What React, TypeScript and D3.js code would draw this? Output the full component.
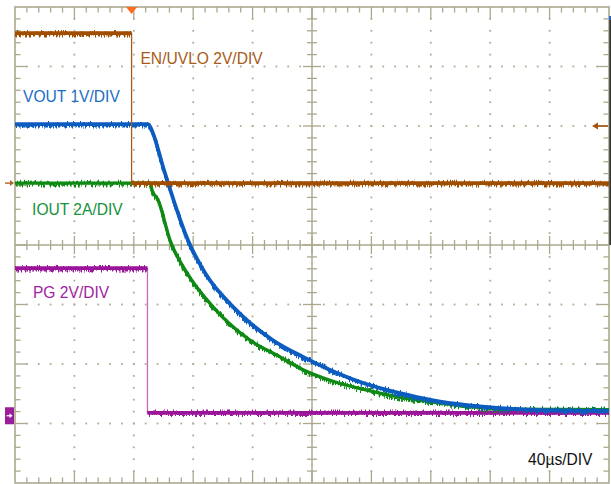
import React from "react";
import * as d3 from "d3";

// ---- data (time in µs, amplitude in screen divisions from centre line) ----
const timeDomain = [0, 400]; // 40 µs/DIV, 10 divisions
const divDomain = [-4, 4]; // 8 vertical divisions

const enT = [0, 78.5, 78.5, 400];
const enY = [3.56, 3.56, 1.04, 1.04];

const voutT = [0, 89.6, 92.9, 99.7, 116.5, 128, 146.8, 173.7, 193.9, 214.1, 237, 259.3, 281.5, 304.4, 326.6, 348.8, 400];
const voutY = [2.03, 2.03, 1.88, 1.31, 0.08, -0.47, -1.04, -1.6, -1.88, -2.12, -2.34, -2.49, -2.61, -2.69, -2.74, -2.77, -2.79];

const ioutT = [0, 90.9, 92.3, 96.3, 104.4, 115.8, 133.3, 158.2, 178.5, 191.9, 214.1, 237, 259.3, 281.5, 304.4, 326.6, 400];
const ioutY = [1.04, 1.04, 0.92, 0.76, 0.08, -0.47, -1.04, -1.6, -1.88, -2.07, -2.29, -2.44, -2.56, -2.64, -2.71, -2.76, -2.77];

const pgT = [0, 89.2, 89.2, 400];
const pgY = [-0.39, -0.39, -2.82, -2.82];

const enGroundDiv = 1.04;
const pgGroundDiv = -2.87;
const trigLevelDiv = 2.0;

const labels = [
  { text: "EN/UVLO 2V/DIV", t: 84.5, d: 3.05, color: "#a85a18" },
  { text: "VOUT 1V/DIV", t: 5.4, d: 2.4, color: "#1a6ec4" },
  { text: "IOUT 2A/DIV", t: 11.5, d: 0.5, color: "#16913c" },
  { text: "PG 2V/DIV", t: 12.1, d: -0.89, color: "#a01ea0" },
  { text: "40µs/DIV", t: 345.5, d: -3.69, color: "#111111" },
];

const W = 611;
const H = 484;
const FONT = "'Liberation Sans', Arial, Helvetica, sans-serif";

export default function App() {
  const x = d3.scaleLinear().domain(timeDomain).range([15, 609]);
  const y = d3.scaleLinear().domain(divDomain).range([483, 7]);

  const grid = "#aca88e";
  const dotC = "#b0ac94";

  const xMajor = d3.range(0, 401, 40);
  const xMinor = d3.range(0, 400.01, 8);
  const yMajor = d3.range(-4, 4.01, 1);
  const yMinor = d3.range(-4, 4.001, 0.2).map((v) => Math.round(v * 10) / 10);

  const isMajorX = (t: number) => Math.abs(t / 40 - Math.round(t / 40)) < 1e-6;
  const isMajorY = (v: number) => Math.abs(v - Math.round(v)) < 1e-6;

  const dots: JSX.Element[] = [];
  xMajor.slice(1, -1).forEach((t) => {
    if (t === 200) return;
    yMinor.forEach((v, i) => {
      if (isMajorY(v) && Math.abs(v) > 3.9) return;
      dots.push(<rect key={`dv${t}_${i}`} x={x(t) - 0.9} y={y(v) - 0.9} width={1.8} height={1.8} fill={dotC} />);
    });
  });
  yMajor.slice(1, -1).forEach((v) => {
    if (v === 0) return;
    xMinor.forEach((t, i) => {
      if (i === 0 || i === xMinor.length - 1) return;
      dots.push(<rect key={`dh${v}_${i}`} x={x(t) - 0.9} y={y(v) - 0.9} width={1.8} height={1.8} fill={dotC} />);
    });
  });

  const ticks: JSX.Element[] = [];
  xMinor.forEach((t, i) => {
    if (i === 0 || i === xMinor.length - 1) return;
    const L = isMajorX(t) ? 12 : 5.5;
    ticks.push(<line key={`tt${i}`} x1={x(t)} x2={x(t)} y1={y(4)} y2={y(4) + L} />);
    ticks.push(<line key={`tb${i}`} x1={x(t)} x2={x(t)} y1={y(-4)} y2={y(-4) - L} />);
    const C = isMajorX(t) ? 9 : 5;
    ticks.push(<line key={`tc${i}`} x1={x(t)} x2={x(t)} y1={y(0) - C} y2={y(0) + C} />);
  });
  yMinor.forEach((v, i) => {
    if (i === 0 || i === yMinor.length - 1) return;
    const L = isMajorY(v) ? 12 : 5.5;
    ticks.push(<line key={`tl${i}`} x1={x(0)} x2={x(0) + L} y1={y(v)} y2={y(v)} />);
    ticks.push(<line key={`tr${i}`} x1={x(400)} x2={x(400) - L} y1={y(v)} y2={y(v)} />);
    const C = isMajorY(v) ? 9 : 5;
    ticks.push(<line key={`tcv${i}`} x1={x(200) - C} x2={x(200) + C} y1={y(v)} y2={y(v)} />);
  });

  const lineLin = d3
    .line<[number, number]>()
    .x((p) => x(p[0]))
    .y((p) => y(p[1]));
  const lineSmooth = d3
    .line<[number, number]>()
    .x((p) => x(p[0]))
    .y((p) => y(p[1]))
    .curve(d3.curveMonotoneX);

  const zip = (a: number[], b: number[]) => a.map((t, i) => [t, b[i]] as [number, number]);

  // a noisy-looking trace: solid core + jittered copy on top
  const noisy = (d: string, color: string, key: string, core: number) => (
    <g key={key}>
      <path d={d} stroke={color} strokeWidth={core} fill="none" />
      <path d={d} stroke={color} strokeWidth={2.6} fill="none" filter="url(#noise)" />
    </g>
  );

  // step traces: thin full path + thick flat segments
  const stepTrace = (T: number[], Y: number[], color: string, edge: string, key: string) => {
    const pts = zip(T, Y);
    const flats: JSX.Element[] = [];
    for (let i = 0; i < pts.length - 1; i++) {
      if (pts[i][1] === pts[i + 1][1]) {
        flats.push(noisy(lineLin([pts[i], pts[i + 1]]) || "", color, `${key}f${i}`, 3.8));
      }
    }
    return (
      <g key={key}>
        <path d={lineLin(pts) || ""} stroke={edge} strokeWidth={1.3} fill="none" />
        {flats}
      </g>
    );
  };

  const vout = zip(voutT, voutY);
  const iout = zip(ioutT, ioutY);

  const trigX = x(enT[1]);

  return (
    <svg
      width={W}
      height={H}
      viewBox={`0 0 ${W} ${H}`}
      style={{ position: "absolute", left: 0, top: 0, background: "#ffffff" }}
    >
      <defs>
        <filter id="noise" filterUnits="userSpaceOnUse" x={0} y={0} width={W} height={H}>
          <feTurbulence type="turbulence" baseFrequency="0.7 0.04" numOctaves="2" seed="5" result="turb" />
          <feColorMatrix
            in="turb"
            type="matrix"
            values="0 0 0 0 0.5  2.2 0 0 0 -0.25  0 0 0 0 0  0 0 0 0 1"
            result="disp"
          />
          <feDisplacementMap in="SourceGraphic" in2="disp" scale="5" xChannelSelector="R" yChannelSelector="G" />
        </filter>
      </defs>
      <rect x={0} y={0} width={W} height={H} fill="#ffffff" />

      {/* grid */}
      <g>{dots}</g>
      <g stroke={grid} strokeWidth={1.3}>{ticks}</g>
      <line x1={x(200)} x2={x(200)} y1={y(4)} y2={y(-4)} stroke={grid} strokeWidth={1.5} />
      <line x1={x(0)} x2={x(400)} y1={y(0)} y2={y(0)} stroke={grid} strokeWidth={1.5} />
      <rect x={x(0)} y={y(4)} width={x(400) - x(0)} height={y(-4) - y(4)} fill="none" stroke={grid} strokeWidth={1.6} />

      {/* traces */}
      {stepTrace(pgT, pgY, "#9a149a", "#c468c4", "pg")}
      {noisy(lineSmooth(iout) || "", "#118a14", "iout", 3.4)}
      {noisy(lineSmooth(vout) || "", "#0c5cc0", "vout", 3.8)}
      {stepTrace(enT, enY, "#a04e04", "#a85c1c", "en")}

      {/* labels */}
      {labels.map((l) => (
        <text key={l.text} x={x(l.t)} y={y(l.d)} fill={l.color} fontFamily={FONT} fontSize={15.6}>
          {l.text}
        </text>
      ))}

      {/* markers */}
      <path d={`M${trigX - 5.5},${y(4)} L${trigX + 5.5},${y(4)} L${trigX},${y(4) + 7} Z`} fill="#ff6a1e" />
      <g stroke="#b0622a" strokeWidth={1.4} fill="#b0622a">
        <line x1={5} x2={11} y1={y(enGroundDiv)} y2={y(enGroundDiv)} />
        <path d={`M${14},${y(enGroundDiv)} L${10},${y(enGroundDiv) - 3} L${10},${y(enGroundDiv) + 3} Z`} stroke="none" />
      </g>
      <g stroke="#a4520c" strokeWidth={1.6} fill="#a4520c">
        <line x1={597} x2={608} y1={y(trigLevelDiv)} y2={y(trigLevelDiv)} />
        <path d={`M${592},${y(trigLevelDiv)} L${598},${y(trigLevelDiv) - 3.5} L${598},${y(trigLevelDiv) + 3.5} Z`} stroke="none" />
      </g>
      <rect x={5} y={y(pgGroundDiv) - 8.5} width={9} height={17} fill="#9b1d9b" />
      <g stroke="#ffffff" strokeWidth={1.2} fill="#ffffff">
        <line x1={6.5} x2={10} y1={y(pgGroundDiv)} y2={y(pgGroundDiv)} />
        <path d={`M${12.5},${y(pgGroundDiv)} L${9.5},${y(pgGroundDiv) - 2.5} L${9.5},${y(pgGroundDiv) + 2.5} Z`} stroke="none" />
      </g>
      <rect x={609} y={16} width={2} height={4} fill="#2a6ac0" />
      <rect x={609.3} y={20} width={1.7} height={225} fill="#333333" />
    </svg>
  );
}
